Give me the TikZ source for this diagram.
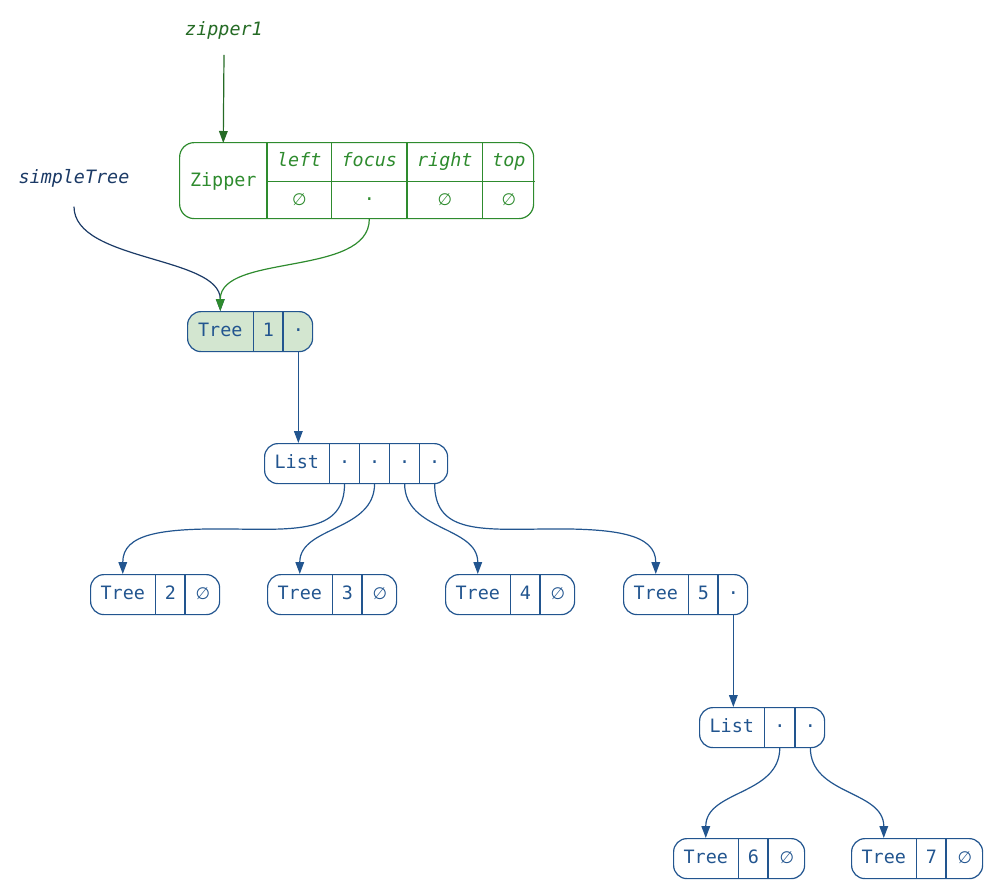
\documentclass[tikz,border=0pt]{standalone}
\usepackage{fontspec}
\setmonofont{DejaVu Sans Mono}
\newfontfamily\symf{DejaVu Sans}
\usetikzlibrary{arrows.meta}
\newcommand\pxu{*0.75pt}
\newcommand\emp{{\symf\fontsize{12.5}{16}\selectfont ∅}}
\definecolor{blueN}{HTML}{22558F}
\definecolor{navyL}{HTML}{1B3A66}
\definecolor{greenN}{HTML}{2E8B2E}
\definecolor{greenL}{HTML}{256B25}
\definecolor{greenF}{HTML}{D3E6D0}
\newcommand\treerec[6]{%
 \node[recB, minimum width={(94+#6)\pxu}] (#1) at (#2,#3) {};
 \node[cellB, minimum width=65\pxu] (#1a) at (#2,#3) {Tree};
 \node[cellB, minimum width=29\pxu] (#1b) at (#1a.north east) {#4};
 \node[cellB, minimum width=#6\pxu] (#1c) at (#1b.north east) {#5};
 \draw[lineB] (#1b.north west) -- (#1b.south west) (#1c.north west) -- (#1c.south west);
}
\tikzset{
 monofont/.style={font=\fontsize{13.8}{16}\selectfont\ttfamily},
 recB/.style={draw=blueN, line width=0.9pt, rounded corners=10pt, inner sep=0pt, minimum height=40\pxu, anchor=north west},
 cellB/.style={monofont, text=blueN, inner sep=0pt, minimum height=40\pxu, anchor=north west, text height=0.73em, text depth=0pt},
 lineB/.style={draw=blueN, line width=0.9pt},
 recG/.style={draw=greenN, line width=0.9pt, rounded corners=11pt, inner sep=0pt, anchor=north west},
 cellG/.style={monofont, text=greenN, inner sep=0pt, anchor=north west, text height=0.73em, text depth=0pt},
 lineG/.style={draw=greenN, line width=0.9pt},
 tip/.style={-{Triangle[length=9pt,width=6.5pt]}},
 arrB/.style={tip, draw=blueN, line width=0.9pt},
 arrN/.style={tip, draw=navyL, line width=0.9pt},
 arrG/.style={tip, draw=greenN, line width=0.9pt},
 arrGD/.style={tip, draw=greenL, line width=0.9pt},
 lbl/.style={font=\fontsize{13.8}{16}\selectfont\ttfamily\itshape, inner sep=0pt, anchor=base},
}
\begin{document}
\begin{tikzpicture}[x=0.75pt, y=-0.75pt]
\useasboundingbox (0,0) rectangle (998,890);

% labels
\node[lbl, text=greenL, outer ysep=12pt] (zlab) at (224,35) {zipper1};
\node[lbl, text=navyL, outer ysep=14.8pt] (slab) at (74,183) {simpleTree};

% Zipper record
\node[recG, minimum width=354\pxu, minimum height=76\pxu] (zip) at (179,142) {};
\node[cellG, minimum width=88\pxu, minimum height=76\pxu] (zc) at (179,143) {Zipper};
\node[cellG, minimum width=64\pxu, minimum height=39\pxu] (zl) at (267,142) {\itshape left};
\node[cellG, minimum width=75\pxu, minimum height=39\pxu] (zf) at (zl.north east) {\itshape focus};
\node[cellG, minimum width=75\pxu, minimum height=39\pxu] (zr) at (zf.north east) {\itshape right};
\node[cellG, minimum width=52\pxu, minimum height=39\pxu] (zt) at (zr.north east) {\itshape top};
\node[cellG, minimum width=64\pxu, minimum height=37\pxu] (zl2) at (zl.south west) {\emp};
\node[cellG, minimum width=75\pxu, minimum height=37\pxu] (zf2) at (zf.south west) {·};
\node[cellG, minimum width=75\pxu, minimum height=37\pxu] (zr2) at (zr.south west) {\emp};
\node[cellG, minimum width=52\pxu, minimum height=37\pxu] (zt2) at (zt.south west) {\emp};
\draw[lineG] (zl.north west) -- (zl2.south west)
 (zf.north west) -- (zf2.south west)
 (zr.north west) -- (zr2.south west)
 (zt.north west) -- (zt2.south west)
 (zl.south west) -- (zt.south east);

% Tree 1 (highlighted)
\node[recB, fill=greenF, minimum width=125\pxu] (t1) at (187,311) {};
\node[cellB, minimum width=66\pxu] (t1a) at (187,311) {Tree};
\node[cellB, minimum width=29\pxu] (t1b) at (t1a.north east) {1};
\node[cellB, minimum width=30\pxu] (t1c) at (t1b.north east) {·};
\draw[lineB] (t1b.north west) -- (t1b.south west) (t1c.north west) -- (t1c.south west);

% List 1
\node[recB, minimum width=183\pxu] (l1) at (264,443) {};
\node[cellB, minimum width=65\pxu] (l1a) at (264,443) {List};
\node[cellB, minimum width=29.5\pxu] (l1b) at (l1a.north east) {·};
\node[cellB, minimum width=29.5\pxu] (l1c) at (l1b.north east) {·};
\node[cellB, minimum width=29.5\pxu] (l1d) at (l1c.north east) {·};
\node[cellB, minimum width=29.5\pxu] (l1e) at (l1d.north east) {·};
\draw[lineB] (l1b.north west) -- (l1b.south west) (l1c.north west) -- (l1c.south west)
 (l1d.north west) -- (l1d.south west) (l1e.north west) -- (l1e.south west);

% Trees 2-5
\treerec{t2}{90}{574}{2}{\emp}{35}
\treerec{t3}{267}{574}{3}{\emp}{35}
\treerec{t4}{445}{574}{4}{\emp}{35}
\treerec{t5}{623}{574}{5}{·}{30}

% List 2
\node[recB, minimum width=125\pxu] (l2) at (699,707) {};
\node[cellB, minimum width=65\pxu] (l2a) at (699,707) {List};
\node[cellB, minimum width=30\pxu] (l2b) at (l2a.north east) {·};
\node[cellB, minimum width=30\pxu] (l2c) at (l2b.north east) {·};
\draw[lineB] (l2b.north west) -- (l2b.south west) (l2c.north west) -- (l2c.south west);

% Trees 6-7
\treerec{t6}{673}{838}{6}{\emp}{37}
\treerec{t7}{851}{838}{7}{\emp}{37}

% connectors
\draw[arrGD] (zlab.south) -- (zc.north);
\draw[arrN] (slab.south) .. controls +(0,55) and +(0,-55) .. (t1a.north);
\draw[arrG] (zf2.south) .. controls +(0,58) and +(0,-58) .. (t1a.north);
\draw[arrB] (t1c.south) -- (t1c.south |- l1a.north);
\draw[arrB] (l1b.south) .. controls +(0,48) and (300,530) .. (233,529)
 .. controls (160,528) and +(0,-40) .. (t2a.north);
\draw[arrB] (l1c.south) .. controls +(0,48) and +(0,-48) .. (t3a.north);
\draw[arrB] (l1d.south) .. controls +(0,48) and +(0,-48) .. (t4a.north);
\draw[arrB] (l1e.south) .. controls +(0,48) and (476,530) .. (543,529)
 .. controls (616,528) and +(0,-40) .. (t5a.north);
\draw[arrB] (t5c.south) -- (t5c.south |- l2a.north);
\draw[arrB] (l2b.south) .. controls +(0,48) and +(0,-48) .. (t6a.north);
\draw[arrB] (l2c.south) .. controls +(0,48) and +(0,-48) .. (t7a.north);
\end{tikzpicture}
\end{document}
